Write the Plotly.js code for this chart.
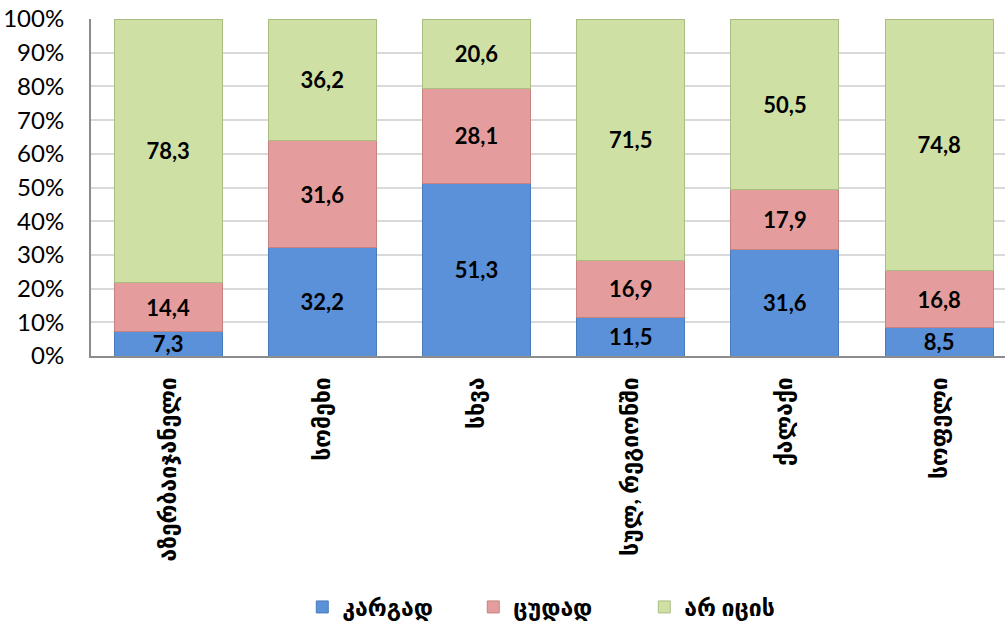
<!DOCTYPE html>
<html>
<head>
<meta charset="utf-8">
<script src="https://cdn.plot.ly/plotly-3.0.1.min.js"></script>
<style>html,body{margin:0;padding:0;background:#fff;overflow:hidden}</style>
</head>
<body>
<div id="chart" style="width:1005px;height:629px"></div>
<script>
const categories = ["აზერბაიჯანელი", "სომეხი", "სხვა", "სულ, რეგიონში", "ქალაქი", "სოფელი"];
const seriesNames = ["კარგად", "ცუდად", "არ იცის"];
const good = [7.3, 32.2, 51.3, 11.5, 31.6, 8.5];
const bad = [14.4, 31.6, 28.1, 16.9, 17.9, 16.8];
const dontKnow = [78.3, 36.2, 20.6, 71.5, 50.5, 74.8];
const yTickVals = [0, 10, 20, 30, 40, 50, 60, 70, 80, 90, 100];

const colors = ["#5a91d8", "#e49d9c", "#cfe0a5"];
const lineColors = ["#4a7bbd", "#c48281", "#aabd83"];
const fontFam = "Lato, 'DejaVu Sans', sans-serif";
const fmt = v => v.toFixed(1).replace('.', ',');

const traces = [good, bad, dontKnow].map((vals, i) => ({
  type: 'bar',
  name: seriesNames[i],
  x: categories,
  y: vals,
  text: vals.map(fmt),
  textposition: 'inside',
  insidetextanchor: 'middle',
  textangle: 0,
  constraintext: 'none',
  textfont: {family: fontFam, size: 22, color: '#000', weight: 'bold'},
  marker: {color: colors[i], line: {color: lineColors[i], width: 1}},
  hoverinfo: 'none'
}));

const layout = {
  width: 1005, height: 629,
  margin: {l: 91, r: 0, t: 19, b: 273, pad: 0},
  barmode: 'stack',
  barnorm: 'percent',
  bargap: 0.3,
  paper_bgcolor: '#fff',
  plot_bgcolor: '#fff',
  showlegend: true,
  legend: {
    orientation: 'h',
    traceorder: 'normal',
    xref: 'container', yref: 'container',
    x: 0.556, xanchor: 'center',
    y: 0.035, yanchor: 'middle',
    font: {family: fontFam, size: 23, color: '#000', weight: 'bold'},
    itemwidth: 30,
    entrywidth: 126,
    tracegroupgap: 0
  },
  xaxis: {
    type: 'category',
    range: [-0.5, 5.427],
    tickangle: -90,
    tickfont: {family: fontFam, size: 23, color: '#000', weight: 'bold'},
    showline: true, linecolor: '#8c8c8c', linewidth: 2,
    ticks: '', showgrid: false,
    ticklabelstandoff: 10
  },
  yaxis: {
    range: [0, 100],
    tickvals: yTickVals,
    ticktext: yTickVals.map(v => v + '%'),
    tickfont: {family: fontFam, size: 24, color: '#000'},
    showline: true, linecolor: '#8c8c8c', linewidth: 2,
    gridcolor: '#d9d9d9', gridwidth: 2,
    ticks: '', zeroline: false,
    ticklabelstandoff: 20
  }
};

Plotly.newPlot('chart', traces, layout, {displayModeBar: false, staticPlot: true});
</script>
</body>
</html>
